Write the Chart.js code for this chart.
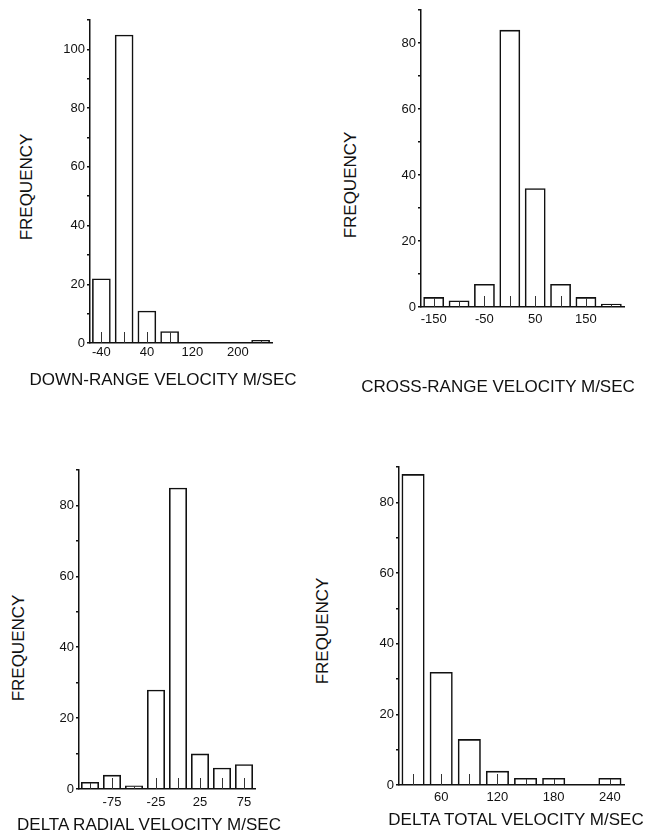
<!DOCTYPE html>
<html>
<head>
<meta charset="utf-8">
<script src="https://cdn.jsdelivr.net/npm/chart.js@4"></script>
<style>
  body { margin: 0; background: #fff; }
  #page { position: relative; width: 648px; height: 832px; overflow: hidden; }
  canvas { position: absolute; }
  .ttl { position: absolute; font: 17px 'Liberation Sans', Arial, sans-serif; color: #111; white-space: nowrap; transform: translate(-50%, -50%); }
  .rot { transform: translate(-50%, -50%) rotate(-90deg); }
</style>
</head>
<body>
<div id="page">
  <canvas id="c1"></canvas>
  <canvas id="c2"></canvas>
  <canvas id="c3"></canvas>
  <canvas id="c4"></canvas>
  <div class="ttl rot" style="left:27px; top:187px;">FREQUENCY</div>
  <div class="ttl" style="left:163px; top:380px;">DOWN-RANGE VELOCITY M/SEC</div>
  <div class="ttl rot" style="left:351px; top:185px;">FREQUENCY</div>
  <div class="ttl" style="left:498px; top:387px;">CROSS-RANGE VELOCITY M/SEC</div>
  <div class="ttl rot" style="left:19px; top:648px;">FREQUENCY</div>
  <div class="ttl" style="left:149px; top:825px;">DELTA RADIAL VELOCITY M/SEC</div>
  <div class="ttl rot" style="left:323px; top:631px;">FREQUENCY</div>
  <div class="ttl" style="left:516px; top:820px;">DELTA TOTAL VELOCITY M/SEC</div>
</div>
<script>
// bin centres, counts and labelled ticks for each histogram
const downBins = [-40, 0, 40, 80, 120, 160, 200, 240];
const downCounts = [22, 105, 11, 4, 0, 0, 0, 1];
const downTicks = [-40, 40, 120, 200];

const crossBins = [-150, -100, -50, 0, 50, 100, 150, 200];
const crossCounts = [3, 2, 7, 84, 36, 7, 3, 1];
const crossTicks = [-150, -50, 50, 150];

const radialBins = [-100, -75, -50, -25, 0, 25, 50, 75];
const radialCounts = [2, 4, 1, 28, 85, 10, 6, 7];
const radialTicks = [-75, -25, 25, 75];

const totalBins = [30, 60, 90, 120, 150, 180, 210, 240];
const totalCounts = [88, 32, 13, 4, 2, 2, 0, 2];
const totalTicks = [60, 120, 180, 240];

Chart.defaults.font.family = "'Liberation Sans', Arial, sans-serif";
Chart.defaults.color = '#111';

const INK = '#111';
const Y_W = 45, X_H = 30, PAD = 12;

// short upward tick marks from the baseline at the centre of each non-empty bin
const innerTicks = {
    id: 'innerTicks',
    afterDatasetsDraw(chart) {
        const x = chart.scales.x;
        const y = chart.scales.y;
        const b = chart.chartArea.bottom;
        const data = chart.data.datasets[0].data;
        const ctx = chart.ctx;
        ctx.save();
        ctx.strokeStyle = '#333';
        ctx.lineWidth = 1;
        x.ticks.forEach((t, i) => {
            if (!data[i]) return;
            const len = Math.min(11, b - y.getPixelForValue(data[i]) - 1);
            const px = Math.round(x.getPixelForTick(i)) + 0.5;
            ctx.beginPath();
            ctx.moveTo(px, b);
            ctx.lineTo(px, b - len);
            ctx.stroke();
        });
        ctx.restore();
    }
};

// area = target plot box on the page: left, top, right, bottom
function histogram(id, bins, counts, shown, yMax, area, labelPad) {
    const cv = document.getElementById(id);
    const w = (area.r - area.l) + Y_W + PAD;
    const h = (area.b - area.t) + PAD + X_H;
    cv.width = w;
    cv.height = h;
    cv.style.left = (area.l - Y_W) + 'px';
    cv.style.top = (area.t - PAD) + 'px';

    new Chart(cv.getContext('2d'), {
        type: 'bar',
        data: {
            labels: bins,
            datasets: [{
                data: counts,
                backgroundColor: 'rgba(255,255,255,0)',
                borderColor: INK,
                borderWidth: 1.6,
                barPercentage: 0.82,
                categoryPercentage: 1
            }]
        },
        options: {
            responsive: false,
            animation: false,
            devicePixelRatio: 1,
            layout: { padding: { left: 0, top: PAD, right: PAD, bottom: 0 } },
            plugins: { legend: { display: false }, tooltip: { enabled: false } },
            scales: {
                x: {
                    type: 'category',
                    offset: true,
                    afterFit: s => { s.height = X_H; },
                    grid: { display: false, drawTicks: false },
                    border: { color: INK, width: 1.5 },
                    ticks: {
                        autoSkip: false,
                        maxRotation: 0,
                        padding: labelPad,
                        font: { size: 13 },
                        color: INK,
                        callback: function (value) {
                            const v = Number(this.getLabelForValue(value));
                            return shown.includes(v) ? String(v) : '';
                        }
                    }
                },
                y: {
                    min: 0,
                    max: yMax,
                    afterFit: s => { s.width = Y_W; },
                    grid: { drawOnChartArea: false, drawTicks: true, tickLength: 3, color: INK, lineWidth: 1.5 },
                    border: { color: INK, width: 1.5 },
                    ticks: {
                        stepSize: 10,
                        padding: 2,
                        font: { size: 13 },
                        color: INK,
                        callback: v => (v % 20 === 0 ? v : '')
                    }
                }
            }
        },
        plugins: [innerTicks]
    });
}

histogram('c1', downBins, downCounts, downTicks, 110, { l: 90, t: 20, r: 272, b: 343 }, 2);
histogram('c2', crossBins, crossCounts, crossTicks, 90, { l: 421, t: 10, r: 624, b: 307 }, 5);
histogram('c3', radialBins, radialCounts, radialTicks, 90, { l: 79, t: 470, r: 255, b: 789 }, 6);
histogram('c4', totalBins, totalCounts, totalTicks, 90, { l: 399, t: 467, r: 624, b: 785 }, 5);
</script>
</body>
</html>
